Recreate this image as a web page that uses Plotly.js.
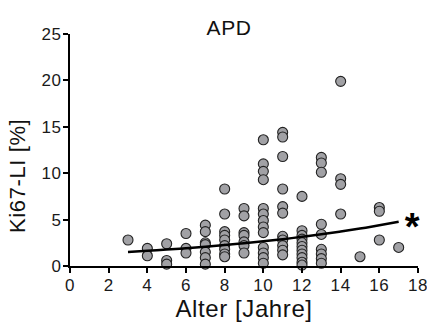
<!DOCTYPE html>
<html>
<head>
<meta charset="utf-8">
<script src="https://cdn.plot.ly/plotly-3.0.1.min.js"></script>
<style>
  html, body { margin: 0; padding: 0; background: #fff; }
  #chart { width: 427px; height: 322px; }
  #chart text { letter-spacing: 0.6px; }
</style>
</head>
<body>
<div id="chart"></div>
<script>
// Age (years) of each sample and its Ki67 labelling index (%)
const age = [
  3,
  4, 4,
  5, 5, 5,
  6, 6, 6,
  7, 7, 7, 7, 7, 7, 7,
  8, 8, 8, 8, 8, 8, 8, 8, 8,
  9, 9, 9, 9, 9, 9, 9,
  10, 10, 10, 10, 10, 10, 10, 10, 10, 10, 10, 10, 10,
  11, 11, 11, 11, 11, 11, 11, 11, 11, 11, 11,
  12, 12, 12, 12, 12, 12, 12, 12, 12, 12, 12,
  13, 13, 13, 13, 13, 13, 13, 13, 13,
  14, 14, 14, 14,
  15,
  16, 16, 16,
  17
];
const ki67 = [
  2.8,
  1.9, 1.1,
  2.4, 0.6, 0.2,
  3.5, 1.9, 1.4,
  4.4, 3.7, 2.5, 2.3, 1.5, 0.9, 0.2,
  8.3, 5.6, 3.7, 3.3, 2.8, 2.2, 1.8, 1.3, 1.0,
  6.2, 5.4, 3.6, 3.3, 2.6, 2.2, 1.4,
  13.6, 11.0, 10.2, 9.3, 6.2, 5.6, 4.9, 4.2, 3.6, 2.0, 1.4, 0.9, 0.3,
  14.4, 13.9, 11.8, 8.3, 6.4, 5.7, 3.2, 2.8, 2.2, 1.7, 1.2,
  7.5, 3.8, 3.3, 2.9, 2.5, 2.1, 1.7, 1.3, 0.9, 0.4, 0.1,
  11.7, 11.1, 10.1, 4.5, 3.4, 1.8, 1.3, 0.8, 0.3,
  19.9, 9.4, 8.8, 5.6,
  1.0,
  6.3, 5.9, 2.8,
  2.0
];
// Fitted trend curve
const fitX = [3, 4, 5, 6, 7, 8, 9, 10, 11, 12, 13, 14, 15, 16, 17];
const fitY = [1.50, 1.63, 1.77, 1.91, 2.08, 2.26, 2.45, 2.67, 2.89, 3.14, 3.42, 3.71, 4.03, 4.38, 4.76];

const xTicks = [0, 2, 4, 6, 8, 10, 12, 14, 16, 18];
const yTicks = [0, 5, 10, 15, 20, 25];

const chartTitle = 'APD';
const xTitle = 'Alter [Jahre]';
const yTitle = 'Ki67-LI [%]';
const sigMark = '*';

const FONT = 'Liberation Sans, Arial, sans-serif';

const traces = [
  {
    x: age, y: ki67, type: 'scatter', mode: 'markers',
    cliponaxis: false,
    marker: { size: 10, color: '#a1a1a5', line: { color: '#222', width: 1.1 } },
    hoverinfo: 'x+y'
  },
  {
    x: fitX, y: fitY, type: 'scatter', mode: 'lines',
    line: { color: '#000', width: 2.5, shape: 'spline' },
    cliponaxis: false,
    hoverinfo: 'skip'
  }
];

const axisCommon = {
  showgrid: false, zeroline: false,
  showline: true, linecolor: '#000', linewidth: 2,
  ticks: 'outside', ticklen: 5, tickwidth: 2, tickcolor: '#000',
  tickfont: { family: FONT, size: 17, color: '#1a1a1a' },
  ticklabelstandoff: -2,
  ticklabeloverflow: 'allow',
  fixedrange: true
};

const layout = {
  width: 427, height: 322,
  margin: { l: 70, r: 9, t: 34, b: 56 },
  paper_bgcolor: '#fff', plot_bgcolor: '#fff',
  showlegend: false,
  title: {
    text: chartTitle,
    font: { family: FONT, size: 21, color: '#111' },
    xref: 'paper', x: 0.457, xanchor: 'center',
    yref: 'container', y: 0.913, yanchor: 'middle'
  },
  xaxis: Object.assign({}, axisCommon, {
    range: [0, 18], tickvals: xTicks, ticktext: xTicks.map(String),
    title: { text: xTitle, font: { family: FONT, size: 24, color: '#111' }, standoff: 4 }
  }),
  yaxis: Object.assign({}, axisCommon, {
    range: [0, 25], tickvals: yTicks, ticktext: yTicks.map(String)
  }),
  annotations: [
    {
      text: yTitle, textangle: -90,
      xref: 'paper', yref: 'paper', x: -0.152, y: 0.39,
      xanchor: 'center', yanchor: 'middle', showarrow: false,
      font: { family: FONT, size: 22, color: '#111' }
    },
    {
      text: '<b>' + sigMark + '</b>',
      xref: 'x', yref: 'y', x: fitX[fitX.length - 1] + 0.2, y: fitY[fitY.length - 1],
      xanchor: 'left', yanchor: 'middle', yshift: -5, showarrow: false,
      font: { family: FONT, size: 38, color: '#000' }
    }
  ]
};

Plotly.newPlot('chart', traces, layout, { displayModeBar: false, staticPlot: true });
</script>
</body>
</html>
